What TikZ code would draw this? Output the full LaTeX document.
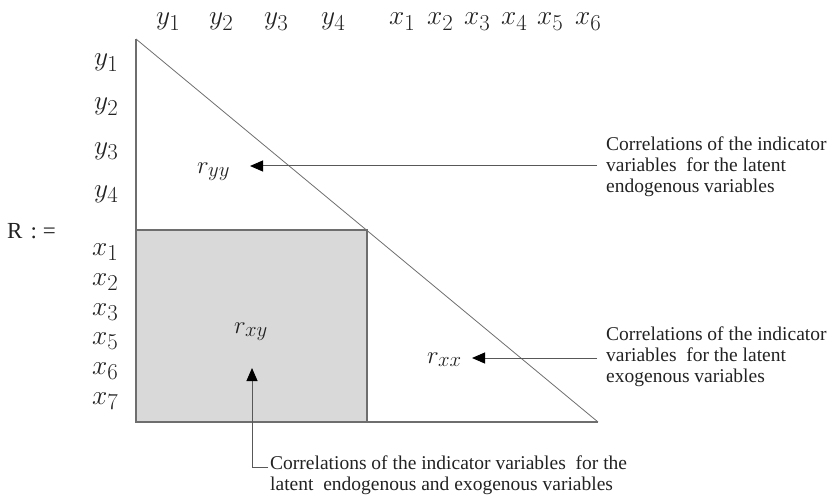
\documentclass[tikz,border=0pt]{standalone}
\usepackage{fontspec}
\setmainfont{Liberation Serif}
\newfontfamily\notefont{Liberation Serif}
\usetikzlibrary{arrows.meta}
\definecolor{linegray}{HTML}{6E6E6E}
\definecolor{boxfill}{HTML}{D9D9D9}
\definecolor{txt}{HTML}{222222}
\newcommand{\mylabm}[1]{\scalebox{1.1}{$#1$}}
\begin{document}
\begin{tikzpicture}[x=1pt,y=-1pt,
  mlab/.style={font=\fontsize{24.88}{28}\selectfont, inner sep=0pt, anchor=base west, text=txt},
  rlab/.style={font=\fontsize{24.88}{27}\selectfont, inner sep=0pt, anchor=base west, text=txt},
  note/.style={font=\notefont\fontsize{19.5}{21}\selectfont, inner sep=0pt, anchor=north west, align=left, text=txt},
  frame/.style={draw=linegray, line width=1.1pt},
  diag/.style={draw=linegray, line width=0.8pt},
  arr/.style={draw=linegray!80!black, line width=1pt, -{Triangle[length=13pt,width=11pt,color=black]}}]
\useasboundingbox (0,0) rectangle (834,497);
% shapes
\coordinate (tl) at (136,39);
\coordinate (bl) at (136,422);
\coordinate (br) at (598,422);
\coordinate (rt) at (367,230);
\fill[boxfill] (136,230) rectangle (367,422);
\draw[diag] (tl) -- (br);
\draw[frame] (tl) -- (bl) -- (br);
\draw[frame] (136,230) -- (rt) -- (367,422);
% top labels
\node[mlab] (ty1) at (156,25) {\mylabm{y_1}};
\node[mlab] (ty2) at (209,25) {\mylabm{y_2}};
\node[mlab] (ty3) at (264,25) {\mylabm{y_3}};
\node[mlab] (ty4) at (321,25) {\mylabm{y_4}};
\node[mlab] (tx1) at (389,25) {\mylabm{x_1}};
\node[mlab] (tx2) at (427,25) {\mylabm{x_2}};
\node[mlab] (tx3) at (464,25) {\mylabm{x_3}};
\node[mlab] (tx4) at (501,25) {\mylabm{x_4}};
\node[mlab] (tx5) at (537,25) {\mylabm{x_5}};
\node[mlab] (tx6) at (575,25) {\mylabm{x_6}};
% left labels
\node[mlab] (ly1) at (94,66) {\mylabm{y_1}};
\node[mlab] (ly2) at (94,110) {\mylabm{y_2}};
\node[mlab] (ly3) at (94,154) {\mylabm{y_3}};
\node[mlab] (ly4) at (94,197) {\mylabm{y_4}};
\node[mlab] (lx1) at (92,255) {\mylabm{x_1}};
\node[mlab] (lx2) at (92,285) {\mylabm{x_2}};
\node[mlab] (lx3) at (92,315) {\mylabm{x_3}};
\node[mlab] (lx5) at (92,344) {\mylabm{x_5}};
\node[mlab] (lx6) at (92,374) {\mylabm{x_6}};
\node[mlab] (lx7) at (92,404) {\mylabm{x_7}};
\node[font=\notefont\fontsize{23}{26}\selectfont, inner sep=0pt, anchor=base west, text=txt] (R) at (7,238) {R\hspace{8pt}:\hspace{6pt}=};
% region labels
\node[rlab] (ryy) at (197,173) {$r_{yy}$};
\node[rlab] (rxy) at (234,333) {$r_{xy}$};
\node[rlab] (rxx) at (427,363) {$r_{xx}$};
% notes
\node[note] (n1) at (606,137) {Correlations of the indicator\\variables\ \ for the latent\\endogenous variables};
\node[note] (n2) at (606,327) {Correlations of the indicator\\variables\ \ for the latent\\exogenous variables};
\node[note] (n3) at (270,456) {Correlations of the indicator variables\ \ for the\\latent\ \ endogenous and exogenous variables};
% connectors
\coordinate (a1s) at (597,166);
\coordinate (a1e) at (250,166);
\coordinate (a2s) at (597,358);
\coordinate (a2e) at (472,358);
\coordinate (a3s) at (268,467);
\coordinate (a3c) at (252,467);
\coordinate (a3e) at (252,368);
\draw[arr] (a1s) -- (a1e);
\draw[arr] (a2s) -- (a2e);
\draw[arr] (a3s) -- (a3c) -- (a3e);
\end{tikzpicture}
\end{document}
